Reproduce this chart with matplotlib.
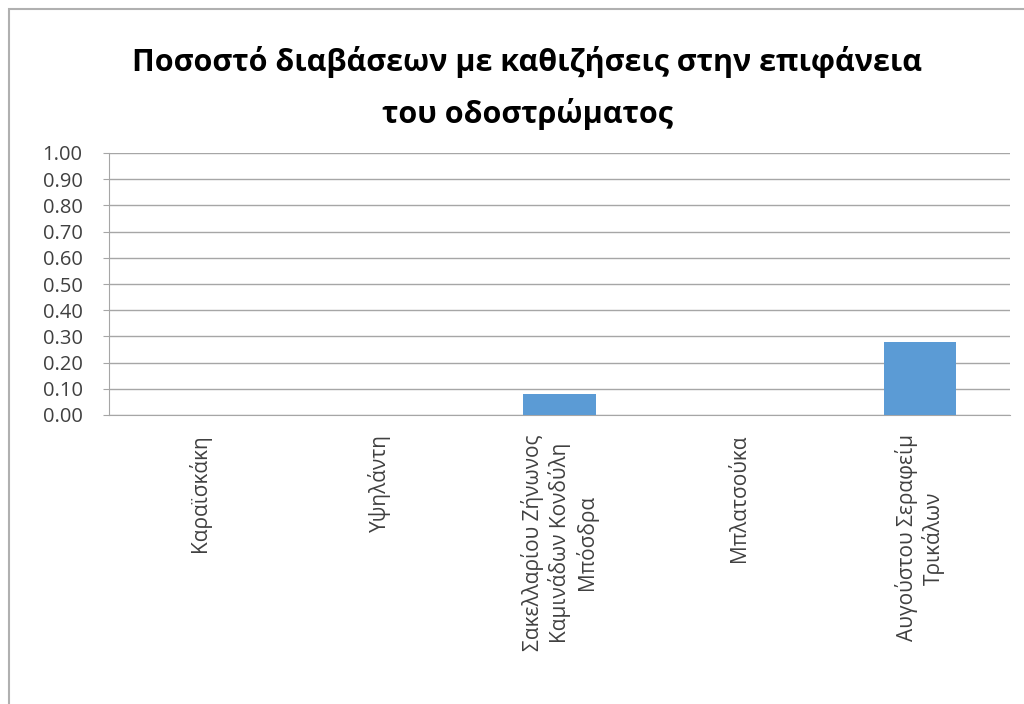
import matplotlib.pyplot as plt
from matplotlib.patches import Rectangle

streets = ['Καραϊσκάκη', 'Υψηλάντη',
           'Σακελλαρίου Ζήνωνος\nΚαμινάδων Κονδύλη\nΜπόσδρα',
           'Μπλατσούκα', 'Αυγούστου Σεραφείμ\nΤρικάλων']
share = [0.0, 0.0, 0.08, 0.0, 0.28]
yticks = [0.0, 0.1, 0.2, 0.3, 0.4, 0.5, 0.6, 0.7, 0.8, 0.9, 1.0]
title = 'Ποσοστό διαβάσεων με καθιζήσεις στην επιφάνεια\nτου οδοστρώματος'

plt.rcParams['font.family'] = ['Open Sans', 'DejaVu Sans']

fig = plt.figure(figsize=(10.24, 7.04), dpi=100)
fig.patches.append(Rectangle((9 / 1024, -0.05), 1.2, 1 - 9 / 704 + 0.05,
                             transform=fig.transFigure, fill=False,
                             edgecolor='#b0b0b0', linewidth=1.5))

ax = fig.add_axes([109 / 1024, 1 - 415 / 704, (1010 - 109) / 1024, (415 - 153) / 704])
x = range(len(streets))
ax.bar(x, share, width=0.4, color='#5b9bd5', zorder=3)

ax.set_xlim(-0.5, len(streets) - 0.5)
ax.set_ylim(0, 1.0)
ax.set_yticks(yticks)
ax.set_yticklabels(['%.2f' % v for v in yticks], fontsize=14.5, color='#404040')
ax.yaxis.grid(True, color='#a6a6a6', linewidth=1.0, zorder=0)
ax.tick_params(axis='y', length=4, color='#a6a6a6', pad=15)
ax.set_xticks(list(x))
ax.set_xticklabels(streets, rotation=90, va='top', ha='center',
                   multialignment='center', fontsize=15, color='#404040',
                   linespacing=1.2)
ax.tick_params(axis='x', length=0, pad=14)
for s in ['top', 'right']:
    ax.spines[s].set_visible(False)
ax.spines['left'].set_color('#a6a6a6')
ax.spines['bottom'].set_color('#a6a6a6')

fig.text(0.515, 1 - 88 / 704, title, ha='center', va='center', fontsize=22,
         fontweight='bold', linespacing=1.8)

fig.savefig('out.png', dpi=100)
